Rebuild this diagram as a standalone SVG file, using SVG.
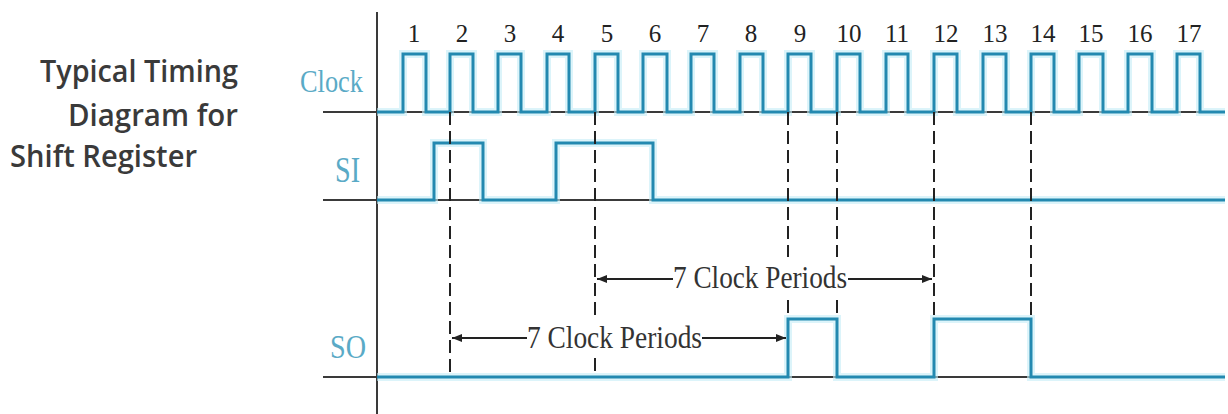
<svg xmlns="http://www.w3.org/2000/svg" width="1228" height="414" viewBox="0 0 1228 414">
<defs>
<style>
.sig{fill:none;stroke:#2389b0;stroke-width:3;stroke-linejoin:miter}
.glow{fill:none;stroke:#c4ecf7;stroke-width:8;stroke-linejoin:miter}
.axis{fill:none;stroke:#3a3a3a;stroke-width:2}
.dash{fill:none;stroke:#222;stroke-width:2;stroke-dasharray:13 6}
.arr{fill:none;stroke:#222;stroke-width:2}
.num{font-family:"Liberation Serif",serif;font-size:25px;fill:#222;text-anchor:middle}
.lbl{font-family:"Liberation Serif",serif;fill:#5aaac6}
.per{font-family:"Liberation Serif",serif;font-size:32px;fill:#333}
.title{font-family:"Open Sans","Noto Sans",sans-serif;font-size:31px;font-weight:600;fill:#3a3a3a}
</style>
<marker id="ah" viewBox="0 0 10 8" refX="10" refY="4" markerWidth="10" markerHeight="8" markerUnits="userSpaceOnUse" orient="auto-start-reverse">
<path d="M0,0 L10,4 L0,8 Z" fill="#222"/>
</marker>
</defs>
<rect width="1228" height="414" fill="#ffffff"/>

<g id="title">
<text class="title" x="238" y="82" text-anchor="end" textLength="198" lengthAdjust="spacingAndGlyphs">Typical Timing</text>
<text class="title" x="238" y="126" text-anchor="end" textLength="170" lengthAdjust="spacingAndGlyphs">Diagram for</text>
<text class="title" x="10" y="167" textLength="187" lengthAdjust="spacingAndGlyphs">Shift Register</text>
</g>

<g id="axis">
<line class="axis" x1="377" y1="12" x2="377" y2="414"/>
<line class="axis" x1="323" y1="112" x2="1225" y2="112"/>
<line class="axis" x1="323" y1="200" x2="1225" y2="200"/>
<line class="axis" x1="323" y1="377" x2="1225" y2="377"/>
</g>

<g id="numbers">
<text class="num" x="414" y="42">1</text>
<text class="num" x="462" y="42">2</text>
<text class="num" x="510" y="42">3</text>
<text class="num" x="558" y="42">4</text>
<text class="num" x="607" y="42">5</text>
<text class="num" x="655" y="42">6</text>
<text class="num" x="703" y="42">7</text>
<text class="num" x="751" y="42">8</text>
<text class="num" x="800" y="42">9</text>
<text class="num" x="849" y="42">10</text>
<text class="num" x="897" y="42">11</text>
<text class="num" x="946" y="42">12</text>
<text class="num" x="995" y="42">13</text>
<text class="num" x="1043" y="42">14</text>
<text class="num" x="1091" y="42">15</text>
<text class="num" x="1140" y="42">16</text>
<text class="num" x="1189" y="42">17</text>
</g>

<g id="clock">
<text class="lbl" x="300" y="92" font-size="31" textLength="63" lengthAdjust="spacingAndGlyphs">Clock</text>
<path class="glow" d="M377,112 H403 V54 H426 V112 H450 V54 H473 V112 H498 V54 H521 V112 H547 V54 H569 V112 H595 V54 H618 V112 H643 V54 H667 V112 H691 V54 H714 V112 H740 V54 H763 V112 H788 V54 H811 V112 H837 V54 H860 V112 H886 V54 H908 V112 H934 V54 H957 V112 H983 V54 H1006 V112 H1031 V54 H1054 V112 H1079 V54 H1103 V112 H1128 V54 H1152 V112 H1177 V54 H1200 V112 H1225" opacity="0.6"/>
<path class="sig" d="M377,112 H403 V54 H426 V112 H450 V54 H473 V112 H498 V54 H521 V112 H547 V54 H569 V112 H595 V54 H618 V112 H643 V54 H667 V112 H691 V54 H714 V112 H740 V54 H763 V112 H788 V54 H811 V112 H837 V54 H860 V112 H886 V54 H908 V112 H934 V54 H957 V112 H983 V54 H1006 V112 H1031 V54 H1054 V112 H1079 V54 H1103 V112 H1128 V54 H1152 V112 H1177 V54 H1200 V112 H1225"/>
</g>

<g id="si">
<text class="lbl" x="335" y="182" font-size="36" textLength="25" lengthAdjust="spacingAndGlyphs">SI</text>
<path class="glow" d="M377,200 H434 V143 H483 V200 H556 V143 H653 V200 H1225" opacity="0.6"/>
<path class="sig" d="M377,200 H434 V143 H483 V200 H556 V143 H653 V200 H1225"/>
</g>

<g id="so">
<text class="lbl" x="330" y="358" font-size="33" textLength="36" lengthAdjust="spacingAndGlyphs">SO</text>
<path class="glow" d="M377,377 H788 V319 H837 V377 H934 V319 H1031 V377 H1225" opacity="0.6"/>
<path class="sig" d="M377,377 H788 V319 H837 V377 H934 V319 H1031 V377 H1225"/>
</g>

<g id="connectors">
<line class="dash" x1="450" y1="112" x2="450" y2="377"/>
<line class="dash" x1="595" y1="112" x2="595" y2="318"/>
<line class="dash" x1="595" y1="358" x2="595" y2="377"/>
<line class="dash" x1="788" y1="112" x2="788" y2="257"/>
<line class="dash" x1="788" y1="300" x2="788" y2="319"/>
<line class="dash" x1="837" y1="112" x2="837" y2="257"/>
<line class="dash" x1="837" y1="300" x2="837" y2="319"/>
<line class="dash" x1="934" y1="112" x2="934" y2="319"/>
<line class="dash" x1="1031" y1="112" x2="1031" y2="319"/>
<line class="arr" x1="673" y1="279" x2="597" y2="279" marker-end="url(#ah)"/>
<line class="arr" x1="848" y1="279" x2="932" y2="279" marker-end="url(#ah)"/>
<text class="per" x="673" y="288" textLength="174" lengthAdjust="spacingAndGlyphs">7 Clock Periods</text>
<line class="arr" x1="527" y1="338" x2="452" y2="338" marker-end="url(#ah)"/>
<line class="arr" x1="702" y1="338" x2="786" y2="338" marker-end="url(#ah)"/>
<text class="per" x="527" y="348" textLength="175" lengthAdjust="spacingAndGlyphs">7 Clock Periods</text>
</g>
</svg>
